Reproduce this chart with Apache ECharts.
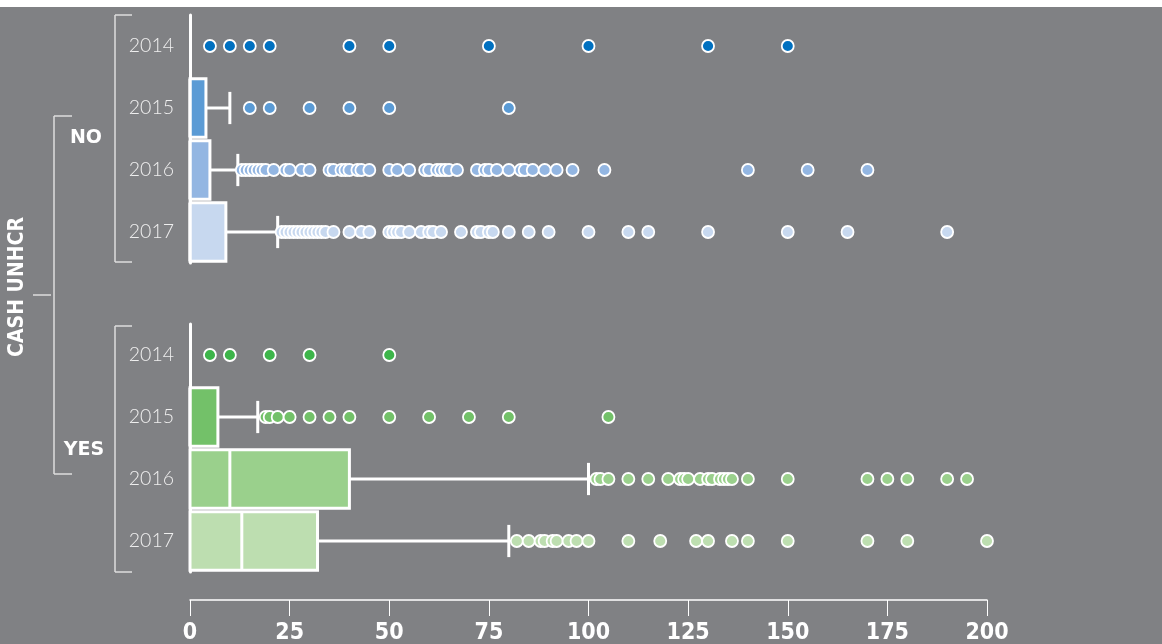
<!DOCTYPE html>
<html>
<head>
<meta charset="utf-8">
<script src="https://cdn.jsdelivr.net/npm/echarts@6/dist/echarts.min.js"></script>
<style>
html,body{margin:0;padding:0;}
body{background:linear-gradient(to bottom,#ffffff 0,#ffffff 7px,#808184 7px,#808184 100%);}
#chart{width:1162px;height:644px;}
</style>
</head>
<body>
<div id="chart"></div>
<script>
// ---- data ----
const years = ['2014', '2015', '2016', '2017'];
const groups = ['NO', 'YES'];
const axisTitle = 'CASH UNHCR';
const xTicks = [0, 25, 50, 75, 100, 125, 150, 175, 200];

// box stats: [year, min, q1, median, q3, max]
const noBoxes = [
  ['2015', 0, 0, 0, 4, 10],
  ['2016', 0, 0, 0, 5, 12],
  ['2017', 0, 0, 0, 9, 22]
];
const yesBoxes = [
  ['2015', 0, 0, 0, 7, 17],
  ['2016', 0, 0, 10, 40, 100],
  ['2017', 0, 0, 13, 32, 80]
];

// outliers
const no2014 = [5, 10, 15, 20, 40, 50, 75, 100, 130, 150];
const no2015 = [15, 20, 30, 40, 50, 80];
const no2016 = [13, 14, 15, 16, 17, 18, 19, 21, 24, 25, 28, 30, 35, 36, 38, 39, 40, 42, 43, 45, 50, 52, 55, 59, 60, 62, 63, 64, 65, 67, 72, 74, 75, 77, 80, 83, 84, 86, 89, 92, 96, 104, 140, 155, 170];
const no2017 = [23, 24, 25, 26, 27, 28, 29, 30, 31, 32, 33, 34, 36, 40, 43, 45, 50, 51, 52, 53, 55, 58, 60, 61, 63, 68, 72, 73, 75, 76, 80, 85, 90, 100, 110, 115, 130, 150, 165, 190];
const yes2014 = [5, 10, 20, 30, 50];
const yes2015 = [19, 20, 22, 25, 30, 35, 40, 50, 60, 70, 80, 105];
const yes2016 = [102, 103, 105, 110, 115, 120, 123, 124, 125, 128, 130, 131, 133, 134, 135, 136, 140, 150, 170, 175, 180, 190, 195];
const yes2017 = [82, 85, 88, 89, 91, 92, 95, 97, 100, 110, 118, 127, 130, 136, 140, 150, 170, 180, 200];

// ---- styles ----
const noColors = ['#0070c0', '#5b9bd5', '#93b6e2', '#c7d8ef'];
const yesColors = ['#3db54a', '#73c169', '#9ad08c', '#bddeb0'];
const W = '#ffffff';

function boxRender(colors) {
  return function (params, api) {
    const cat = api.value(0);
    const mn = api.value(1), q1 = api.value(2), md = api.value(3), q3 = api.value(4), mx = api.value(5);
    const band = api.size([0, 1])[1];
    const h = band * 0.94;
    const y = api.coord([0, cat])[1];
    const X = v => api.coord([v, cat])[0];
    const cap = band * 0.26;
    return {
      type: 'group',
      children: [
        { type: 'line', shape: { x1: X(q3), y1: y, x2: X(mx), y2: y }, style: { stroke: W, lineWidth: 3 } },
        { type: 'line', shape: { x1: X(mn), y1: y, x2: X(q1), y2: y }, style: { stroke: W, lineWidth: 3 } },
        { type: 'line', shape: { x1: X(mx), y1: y - cap, x2: X(mx), y2: y + cap }, style: { stroke: W, lineWidth: 3 } },
        { type: 'rect', shape: { x: X(q1), y: y - h / 2, width: X(q3) - X(q1), height: h }, style: { fill: colors[cat], stroke: W, lineWidth: 3 } },
        { type: 'line', shape: { x1: X(md), y1: y - h / 2, x2: X(md), y2: y + h / 2 }, style: { stroke: W, lineWidth: 3 } }
      ]
    };
  };
}

function scatter(vals, year, color, idx) {
  return {
    type: 'scatter', xAxisIndex: idx, yAxisIndex: idx,
    data: vals.map(v => [v, year]),
    symbolSize: 12,
    itemStyle: { color: color, borderColor: W, borderWidth: 1.8, opacity: 1 },
    z: 3, silent: true
  };
}

const yearLabel = { color: '#efefef', fontFamily: 'Lato', fontWeight: 300, fontSize: 19.5, margin: 16 };

const lineStyle = { stroke: '#dedede', lineWidth: 1.5 };
function seg(x1, y1, x2, y2) { return { type: 'line', shape: { x1, y1, x2, y2 }, style: lineStyle, silent: true }; }

const option = {
  backgroundColor: 'transparent',
  animation: false,
  grid: [
    { left: 190, right: 175, top: 15, height: 248, outerBoundsMode: 'none', containLabel: false },
    { left: 190, right: 175, top: 324, height: 248, outerBoundsMode: 'none', containLabel: false }
  ],
  xAxis: [
    { gridIndex: 0, type: 'value', min: 0, max: 200, interval: 25, show: false },
    { gridIndex: 1, type: 'value', min: 0, max: 200, interval: 25, offset: 28,
      axisLine: { show: true, lineStyle: { color: W, width: 1.5 } },
      axisTick: { show: true, length: 16, lineStyle: { color: W, width: 1 } },
      splitLine: { show: false },
      axisLabel: { color: W, fontFamily: "'Liberation Sans Narrow', 'DejaVu Sans Condensed', sans-serif", fontWeight: 'bold', fontSize: 23, margin: 22,
        formatter: v => xTicks.includes(v) ? String(v) : '' } }
  ],
  yAxis: [0, 1].map(i => ({
    gridIndex: i, type: 'category', data: years, inverse: true,
    axisLine: { show: true, onZero: false, lineStyle: { color: W, width: 3 } },
    axisTick: { show: false },
    splitLine: { show: false },
    axisLabel: yearLabel
  })),
  series: [
    { type: 'custom', xAxisIndex: 0, yAxisIndex: 0, renderItem: boxRender(noColors), encode: { x: [1, 2, 3, 4, 5], y: 0 }, data: noBoxes, z: 2, silent: true },
    { type: 'custom', xAxisIndex: 1, yAxisIndex: 1, renderItem: boxRender(yesColors), encode: { x: [1, 2, 3, 4, 5], y: 0 }, data: yesBoxes, z: 2, silent: true },
    scatter(no2014, '2014', noColors[0], 0),
    scatter(no2015, '2015', noColors[1], 0),
    scatter(no2016, '2016', noColors[2], 0),
    scatter(no2017, '2017', noColors[3], 0),
    scatter(yes2014, '2014', yesColors[0], 1),
    scatter(yes2015, '2015', yesColors[1], 1),
    scatter(yes2016, '2016', yesColors[2], 1),
    scatter(yes2017, '2017', yesColors[3], 1)
  ],
  graphic: [
    seg(115, 15, 115, 262), seg(115, 15, 132, 15), seg(115, 262, 132, 262),
    seg(115, 326, 115, 572), seg(115, 326, 132, 326), seg(115, 572, 132, 572),
    seg(54, 116, 54, 474), seg(54, 116, 72, 116), seg(54, 474, 72, 474), seg(33, 295, 51, 295),
    { type: 'text', x: 86, y: 138, style: { text: groups[0], fill: W, font: "bold 19px 'DejaVu Sans'", textAlign: 'center', textVerticalAlign: 'middle' }, silent: true },
    { type: 'text', x: 84, y: 450, style: { text: groups[1], fill: W, font: "bold 19px 'DejaVu Sans'", textAlign: 'center', textVerticalAlign: 'middle' }, silent: true },
    { type: 'text', x: 18, y: 287, rotation: Math.PI / 2, style: { text: axisTitle, fill: W, font: "bold 21px 'DejaVu Sans Condensed', 'DejaVu Sans'", textAlign: 'center', textVerticalAlign: 'middle' }, silent: true }
  ]
};

const chart = echarts.init(document.getElementById('chart'), null, { renderer: 'canvas' });
chart.setOption(option);
</script>
</body>
</html>
